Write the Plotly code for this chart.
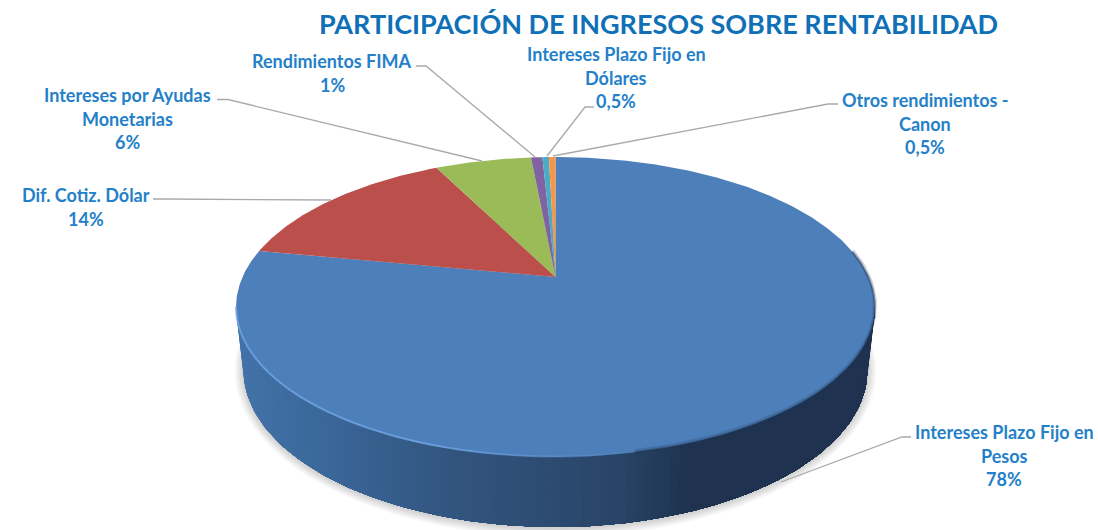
import numpy as np
import plotly.graph_objects as go

title = "PARTICIPACIÓN DE INGRESOS SOBRE RENTABILIDAD"
# clockwise from 12 o'clock, sizes
categories = ["Intereses Plazo Fijo en Pesos", "Dif. Cotiz. Dólar",
              "Intereses por Ayudas Monetarias", "Rendimientos FIMA",
              "Intereses Plazo Fijo en Dólares", "Otros rendimientos - Canon"]
values = [78.0, 14.6, 5.9, 0.7, 0.4, 0.4]
value_labels = ["78%", "14%", "6%", "1%", "0,5%", "0,5%"]
colors = ["#4d7fba", "#bb4f4c", "#9bbb59", "#8064a2", "#4bacc6", "#f79646"]

label_lines = [["Intereses Plazo Fijo en", "Pesos"], ["Dif. Cotiz. Dólar"],
               ["Intereses por Ayudas", "Monetarias"], ["Rendimientos FIMA"],
               ["Intereses Plazo Fijo en", "Dólares"], ["Otros rendimientos -", "Canon"]]
# layout only: label centre (x, first line y) and leader polyline, in pixels
label_pos = [(1004, 432), (86, 195), (127, 95), (332, 61), (616, 54), (925, 100)]
leaders = [[(911, 437), (902, 437), (781, 482)],
           [(153, 199), (165, 199), (331, 200)],
           [(217, 99.5), (228, 99.5), (482, 161)],
           [(416, 66), (426, 66), (535, 157)],
           [(594, 107), (585, 107), (547, 156)],
           [(838, 104), (828, 104), (553, 156)]]

# perspective of the pie disc
CX, APEX_Y = 555.5, 277
R0, A, C = 313, -88.6, 0.2
# visible outlines
TOP = (555.5, 307, 319.5, 150)
BOT = (555.5, 370, 312, 157)


def project(frac):
    # fraction of the circle clockwise from the top -> pixel position
    a = 2 * np.pi * np.asarray(frac)
    u, v = np.sin(a), np.cos(a)
    d = 1 + C * v
    return CX + R0 * u / d, (A * v + APEX_Y) / d


def ell(e, t):
    # y axis points down, so t in 0..pi is the front half
    return e[0] + e[2] * np.cos(t), e[1] + e[3] * np.sin(t)


def wall_color(x):
    xs = [240, 330, 440, 560, 620, 690, 900]
    r = [66, 58, 50, 44, 40, 31, 31]
    g = [114, 102, 86, 74, 68, 51, 51]
    b = [168, 152, 128, 112, 102, 80, 80]
    return f"rgb({np.interp(x, xs, r):.0f},{np.interp(x, xs, g):.0f},{np.interp(x, xs, b):.0f})"


fig = go.Figure()


def poly(xs, ys, color):
    fig.add_trace(go.Scatter(x=xs, y=ys, mode="lines", fill="toself", fillcolor=color,
                             line=dict(color=color, width=0),
                             hoverinfo="skip", showlegend=False))


def stroke(xs, ys, color, width):
    fig.add_trace(go.Scatter(x=xs, y=ys, mode="lines", line=dict(color=color, width=width),
                             hoverinfo="skip", showlegend=False))


# soft shadow under the pie
t_full = np.linspace(0, 2 * np.pi, 180)
for k in range(9, 0, -1):
    sx, sy = ell((BOT[0], BOT[1] + 1, BOT[2] + k, BOT[3] + k), t_full)
    poly(sx, sy, "rgba(0,0,0,0.02)")

# side wall: each strip runs on to the right end and the next paints over it,
# that way no seams show between strips
edges = np.linspace(np.pi, 0, 111)
for i in range(len(edges) - 1):
    tt = edges[i:]
    ax, ay = ell(TOP, tt)
    bx, by = ell(BOT, tt[::-1])
    poly(list(ax) + list(bx), list(ay) + list(by), wall_color(ax[:2].mean()))

# top face
cum = np.cumsum([0] + values) / sum(values)
for i in range(len(values)):
    fr = np.linspace(cum[i], cum[i + 1], max(4, int(values[i] * 6)))
    px, py = project(fr)
    poly([CX] + list(px) + [CX], [APEX_Y] + list(py) + [APEX_Y], colors[i])

# light rim on the front-left edge, fading to the right
rim = np.linspace(np.pi, 0.42 * np.pi, 41)
for t0, t1 in zip(rim[:-1], rim[1:]):
    rx, ry = ell(TOP, np.array([t0, t1]))
    alpha = 0.75 * min(1, (t0 - 0.42 * np.pi) / (0.2 * np.pi))
    stroke(rx, ry - 0.5, f"rgba(116,168,232,{alpha:.2f})", 2)

# dark soft edge on the right
shade = np.linspace(0.42 * np.pi, -0.12 * np.pi, 60)
sx, sy = ell(TOP, shade)
stroke(sx, sy - 1, "rgba(31,51,80,0.2)", 4)
stroke(sx, sy, "rgba(31,51,80,0.4)", 2)

# leader lines
for pts in leaders:
    stroke([p[0] for p in pts], [p[1] for p in pts], "#a9a9a9", 1.3)

annotations = [dict(x=658, y=23, text=title, showarrow=False, xref="x", yref="y",
                    font=dict(family="Lato", size=27, color="#0f70b7", weight=700))]
for lines, val, (lx, ly) in zip(label_lines, value_labels, label_pos):
    for j, txt in enumerate(lines + [val]):
        annotations.append(dict(x=lx, y=ly + j * 23.7, text=txt, showarrow=False, xref="x", yref="y",
                                font=dict(family="Lato", size=18, color="#2480c8", weight=700)))

fig.update_layout(
    width=1098, height=530, margin=dict(l=0, r=0, t=0, b=0),
    paper_bgcolor="white", plot_bgcolor="white", showlegend=False,
    xaxis=dict(range=[0, 1098], visible=False, fixedrange=True),
    yaxis=dict(range=[530, 0], visible=False, fixedrange=True),
    annotations=annotations,
)

# the page's default body margin would push the chart 8px off
fig.write_html("out.html", config=dict(displayModeBar=False),
               post_script="document.body.style.margin='0';document.body.style.overflow='hidden';")
